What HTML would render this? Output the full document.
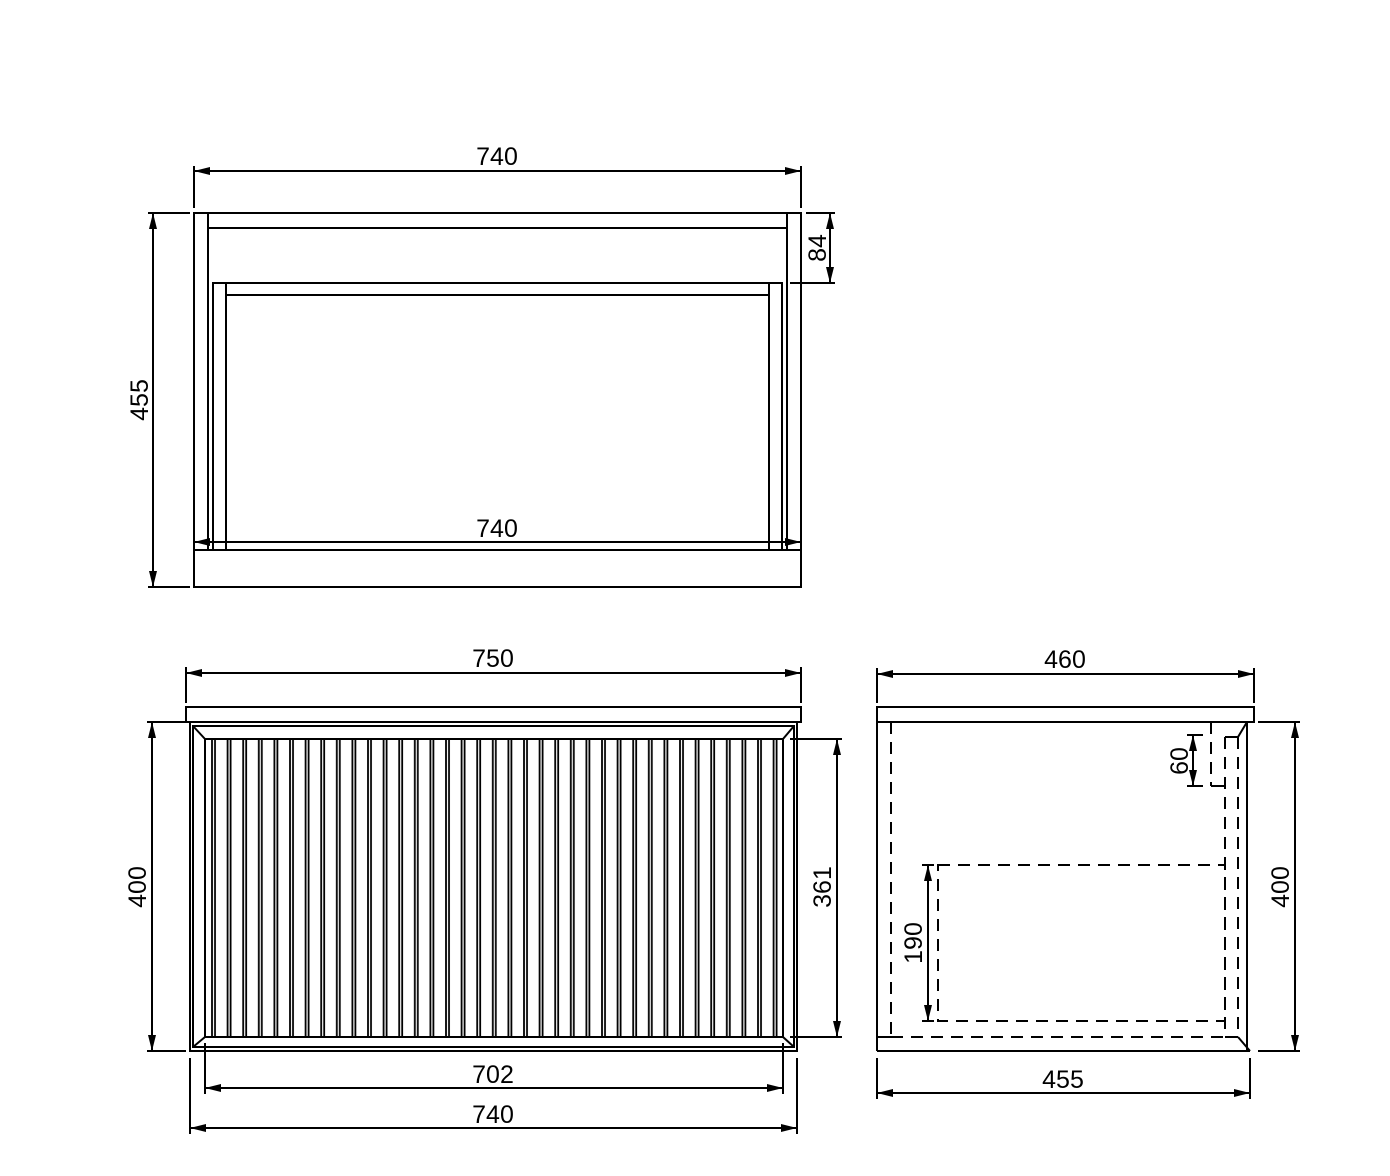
<!DOCTYPE html>
<html><head><meta charset="utf-8"><style>
html,body{margin:0;padding:0;background:#fff;}
svg{display:block}
text{font-family:"Liberation Sans",sans-serif;font-size:25px;fill:#000;}
</style></head><body>
<svg width="1390" height="1176" viewBox="0 0 1390 1176" xmlns="http://www.w3.org/2000/svg">
<defs>
<marker id="a" viewBox="0 0 16 8" refX="16" refY="4" markerWidth="16" markerHeight="8" orient="auto-start-reverse" markerUnits="userSpaceOnUse"><path d="M0,0 L16,4 L0,8 z" fill="#000"/></marker>
<pattern id="sl" x="211" y="0" width="15.6" height="10" patternUnits="userSpaceOnUse">
<line x1="1" y1="0" x2="1" y2="10" stroke="#000" stroke-width="1.8"/>
<line x1="4" y1="0" x2="4" y2="10" stroke="#000" stroke-width="1.8"/>
</pattern>
</defs>
<g stroke="#000" stroke-width="2" fill="none">
<!-- TOP VIEW -->
<rect x="194" y="213" width="607" height="374"/>
<line x1="208" y1="213" x2="208" y2="550"/>
<line x1="787" y1="213" x2="787" y2="550"/>
<line x1="208" y1="228" x2="787" y2="228"/>
<rect x="213" y="283" width="569" height="267"/>
<line x1="226" y1="283" x2="226" y2="550"/>
<line x1="769" y1="283" x2="769" y2="550"/>
<line x1="226" y1="295" x2="769" y2="295"/>
<line x1="194" y1="550" x2="801" y2="550"/>
<line x1="194" y1="542" x2="801" y2="542" marker-start="url(#a)" marker-end="url(#a)"/>
<line x1="194" y1="166" x2="194" y2="208"/>
<line x1="801" y1="166" x2="801" y2="208"/>
<line x1="194" y1="171" x2="801" y2="171" marker-start="url(#a)" marker-end="url(#a)"/>
<line x1="148" y1="213" x2="190" y2="213"/>
<line x1="148" y1="587" x2="190" y2="587"/>
<line x1="153" y1="213" x2="153" y2="587" marker-start="url(#a)" marker-end="url(#a)"/>
<line x1="806" y1="213" x2="835" y2="213"/>
<line x1="790" y1="283" x2="835" y2="283"/>
<line x1="830" y1="213" x2="830" y2="283" marker-start="url(#a)" marker-end="url(#a)"/>

<!-- FRONT VIEW -->
<rect x="186" y="707" width="615" height="15"/>
<rect x="190" y="722" width="607" height="329"/>
<rect x="193" y="726" width="601" height="321"/>
<rect x="205" y="739" width="578" height="298"/>
<line x1="193" y1="726" x2="205" y2="739"/>
<line x1="794" y1="726" x2="783" y2="739"/>
<line x1="193" y1="1047" x2="205" y2="1037"/>
<line x1="794" y1="1047" x2="783" y2="1037"/>
</g>
<rect x="208" y="740" width="574" height="296" fill="url(#sl)"/>
<g stroke="#000" stroke-width="2" fill="none">
<line x1="205" y1="1037" x2="783" y2="1037"/>
<line x1="186" y1="667" x2="186" y2="703"/>
<line x1="801" y1="667" x2="801" y2="703"/>
<line x1="186" y1="673" x2="801" y2="673" marker-start="url(#a)" marker-end="url(#a)"/>
<line x1="147" y1="722" x2="186" y2="722"/>
<line x1="147" y1="1051" x2="186" y2="1051"/>
<line x1="152" y1="722" x2="152" y2="1051" marker-start="url(#a)" marker-end="url(#a)"/>
<line x1="790" y1="739" x2="842" y2="739"/>
<line x1="790" y1="1037" x2="842" y2="1037"/>
<line x1="837" y1="739" x2="837" y2="1037" marker-start="url(#a)" marker-end="url(#a)"/>
<line x1="205" y1="1043" x2="205" y2="1094"/>
<line x1="783" y1="1043" x2="783" y2="1094"/>
<line x1="205" y1="1088" x2="783" y2="1088" marker-start="url(#a)" marker-end="url(#a)"/>
<line x1="190" y1="1058" x2="190" y2="1134"/>
<line x1="797" y1="1058" x2="797" y2="1134"/>
<line x1="190" y1="1128" x2="797" y2="1128" marker-start="url(#a)" marker-end="url(#a)"/>

<!-- SIDE VIEW -->
<rect x="877" y="707" width="377" height="15"/>
<line x1="877" y1="722" x2="877" y2="1051"/>
<line x1="1247" y1="722" x2="1247" y2="1051"/>
<line x1="877" y1="1051" x2="1250" y2="1051"/>
<line x1="877" y1="1037" x2="891" y2="1037"/>
<line x1="1225" y1="1037" x2="1238" y2="1037"/>
<line x1="1238" y1="1037" x2="1250" y2="1051"/>
<line x1="1247" y1="722" x2="1238" y2="737"/>
<g stroke-dasharray="12,8">
<line x1="891" y1="722" x2="891" y2="1037"/>
<line x1="891" y1="1037" x2="1225" y2="1037"/>
<rect x="938" y="865" width="287" height="156"/>
<line x1="1238" y1="737" x2="1238" y2="1037"/>
<line x1="1225" y1="737" x2="1225" y2="1037"/>
<line x1="1211" y1="722" x2="1211" y2="786"/>
</g>
<line x1="1225" y1="737" x2="1238" y2="737"/>
<line x1="1211" y1="786" x2="1225" y2="786"/>
<line x1="877" y1="668" x2="877" y2="703"/>
<line x1="1254" y1="668" x2="1254" y2="703"/>
<line x1="877" y1="674" x2="1254" y2="674" marker-start="url(#a)" marker-end="url(#a)"/>
<line x1="877" y1="1058" x2="877" y2="1099"/>
<line x1="1250" y1="1058" x2="1250" y2="1099"/>
<line x1="877" y1="1093" x2="1250" y2="1093" marker-start="url(#a)" marker-end="url(#a)"/>
<line x1="1258" y1="722" x2="1300" y2="722"/>
<line x1="1258" y1="1051" x2="1300" y2="1051"/>
<line x1="1295" y1="722" x2="1295" y2="1051" marker-start="url(#a)" marker-end="url(#a)"/>
<line x1="922" y1="865" x2="934" y2="865"/>
<line x1="922" y1="1021" x2="934" y2="1021"/>
<line x1="928" y1="865" x2="928" y2="1021" marker-start="url(#a)" marker-end="url(#a)"/>
<line x1="1187" y1="735" x2="1203" y2="735"/>
<line x1="1187" y1="786" x2="1203" y2="786"/>
<line x1="1193" y1="735" x2="1193" y2="786" marker-start="url(#a)" marker-end="url(#a)"/>
</g>
<text x="497" y="165" text-anchor="middle">740</text>
<text x="497" y="537" text-anchor="middle">740</text>
<text transform="translate(148,400) rotate(-90)" text-anchor="middle">455</text>
<text transform="translate(826,248) rotate(-90)" text-anchor="middle">84</text>
<text x="493" y="667" text-anchor="middle">750</text>
<text transform="translate(146,887) rotate(-90)" text-anchor="middle">400</text>
<text transform="translate(831,887) rotate(-90)" text-anchor="middle">361</text>
<text x="493" y="1083" text-anchor="middle">702</text>
<text x="493" y="1123" text-anchor="middle">740</text>
<text x="1065" y="668" text-anchor="middle">460</text>
<text x="1063" y="1088" text-anchor="middle">455</text>
<text transform="translate(1289,887) rotate(-90)" text-anchor="middle">400</text>
<text transform="translate(922,943) rotate(-90)" text-anchor="middle">190</text>
<text transform="translate(1188,761) rotate(-90)" text-anchor="middle">60</text>
</svg>
</body></html>
